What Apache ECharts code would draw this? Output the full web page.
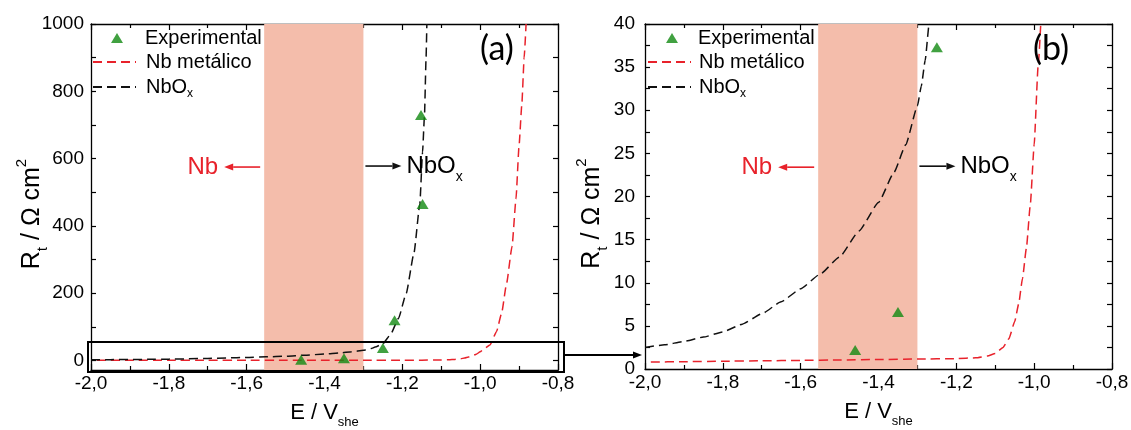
<!DOCTYPE html>
<html><head><meta charset="utf-8">
<script src="https://cdn.jsdelivr.net/npm/echarts@6/dist/echarts.min.js"></script>
<style>html,body{margin:0;padding:0;background:#fff}#c{width:1131px;height:430px}</style>
</head><body><div id="c"></div>
<script>
// ---------- data ----------
const eTicks = [-2.0, -1.8, -1.6, -1.4, -1.2, -1.0, -0.8];
const rtLabelsA = [0, 200, 400, 600, 800, 1000];
const rtTicksA = [0, 100, 200, 300, 400, 500, 600, 700, 800, 900, 1000];
const shadeRange = [-1.555, -1.30];

const expE  = [-1.46, -1.35, -1.25, -1.22, -1.148, -1.152];
const expRt = [2.2, 6.6, 37.3, 120, 465, 730];

const nbE  = [-1.985, -1.9, -1.8, -1.7, -1.6, -1.5, -1.4, -1.3, -1.2, -1.15, -1.12, -1.10, -1.08, -1.065, -1.05, -1.04, -1.03, -1.02, -1.01, -1.00, -0.99, -0.975, -0.958, -0.945, -0.932, -0.918, -0.908, -0.90, -0.893, -0.887, -0.882];
const nbRt = [0.8, 0.85, 0.9, 0.95, 1.0, 1.05, 1.1, 1.15, 1.2, 1.3, 1.5, 1.8, 2.5, 3.5, 5.5, 7.5, 10.5, 14, 19, 26, 35, 46, 86, 140, 230, 340, 480, 640, 760, 900, 1000];

const nboxE  = [-2.00, -1.95, -1.90, -1.85, -1.80, -1.75, -1.70, -1.65, -1.60, -1.55, -1.50, -1.45, -1.40, -1.36, -1.33, -1.30, -1.29, -1.28, -1.27, -1.25, -1.23, -1.21, -1.19, -1.17, -1.155, -1.148, -1.143, -1.139, -1.137];
const nboxRt = [2.5, 2.8, 3.2, 3.7, 4.3, 5.2, 6.4, 7.8, 9.3, 11.0, 13.0, 16.0, 19.3, 22.8, 26.0, 30.5, 32.8, 35.8, 40.0, 50, 78, 125, 200, 320, 466, 620, 731, 900, 1000];

// ---------- style ----------
const RED = '#e8222b', BLACK = '#111111', GREEN = '#128a12', SHADE = '#f4bdab';
const FONT = 'Liberation Sans';
const zip = (a, b) => a.map((v, i) => [v, b[i]]);
const fmtE = v => v.toFixed(1).replace('.', ',');

const xTitleRich = {
  m: {fontSize: 22, fontFamily: FONT, color: '#000', lineHeight: 32},
  s: {fontSize: 13, fontFamily: FONT, color: '#000', lineHeight: 13, verticalAlign: 'bottom'}
};
const yTitleRich = {
  m: {fontSize: 25, fontFamily: FONT, color: '#000', lineHeight: 36},
  s: {fontSize: 15, fontFamily: FONT, color: '#000', lineHeight: 15, verticalAlign: 'bottom'},
  p: {fontSize: 15, fontFamily: FONT, color: '#000', lineHeight: 15, verticalAlign: 'top'}
};
const legendRich = {
  m: {fontSize: 20, fontFamily: FONT, color: '#000', lineHeight: 20},
  s: {fontSize: 12, fontFamily: FONT, color: '#000', lineHeight: 12, verticalAlign: 'bottom', padding: [0,0,-3,0]}
};
const lineAx = {lineStyle: {color: '#000', width: 1.3}, onZero: false};
const tickSt = {color: '#000', width: 1.2};

function xPair(gridIndex) {
  const common = {
    type: 'value', gridIndex, min: eTicks[0], max: eTicks[eTicks.length - 1], interval: 0.2,
    axisLine: lineAx, splitLine: {show: false},
    axisTick: {inside: true, length: 6, lineStyle: tickSt},
    minorTick: {show: true, splitNumber: 2, length: 4, lineStyle: tickSt}
  };
  return [
    Object.assign({}, common, {
      position: 'bottom',
      axisLabel: {formatter: fmtE, fontSize: 19, fontFamily: FONT, color: '#000', margin: 4},
      name: '{m|E / V}{s|she}', nameLocation: 'middle', nameGap: 27,
      nameTextStyle: {rich: xTitleRich}
    }),
    Object.assign({}, common, {position: 'top', axisLabel: {show: false}})
  ];
}

const yName = '{m|R}{s|t}{m| / Ω cm}{p|2}';
const plainNum = v => String(v);

const legendLeft = [92, 647];
const legends = [];
[0, 1].forEach(p => {
  const lx = legendLeft[p];
  legends.push({
    orient: 'vertical', left: lx + 19, top: 28, padding: 0,
    itemWidth: 12, itemHeight: 10, selectedMode: false,
    data: ['Experimental'],
    formatter: n => '{m|' + n + '}',
    textStyle: {rich: legendRich, padding: [0, 0, 0, p === 0 ? 17 : 15]}
  });
  legends.push({
    orient: 'vertical', left: lx, top: 52, padding: 0,
    itemWidth: 43, itemHeight: 12, itemGap: 5, selectedMode: false,
    data: ['Nb metálico', 'NbOx'],
    formatter: n => n === 'NbOx' ? '{m|NbO}{s|x}' : '{m|' + n + '}',
    textStyle: {rich: legendRich, padding: [0, 0, 0, p === 0 ? 5 : 3]}
  });
});

const option = {
  animation: false,
  backgroundColor: '#fff',
  grid: [
    {left: 91, top: 24, width: 467, height: 346, containLabel: false, outerBoundsMode: 'none'},
    {left: 645, top: 24, width: 467, height: 345, containLabel: false, outerBoundsMode: 'none'}
  ],
  xAxis: [...xPair(0), ...xPair(1)],
  yAxis: [
    {type: 'value', gridIndex: 0, position: 'left', min: -28, max: 1000,
     axisLine: lineAx, splitLine: {show: false},
     axisTick: {inside: true, length: 5, lineStyle: tickSt, customValues: rtTicksA},
     axisLabel: {customValues: rtLabelsA, formatter: plainNum, fontSize: 19, fontFamily: FONT, color: '#000', margin: 7},
     name: yName, nameLocation: 'middle', nameRotate: 90, nameGap: 41, nameMoveOverlap: false,
     nameTextStyle: {rich: yTitleRich, padding: [0, 34, 0, 0]}},
    {type: 'value', gridIndex: 0, position: 'right', min: -28, max: 1000,
     axisLine: lineAx, splitLine: {show: false},
     axisTick: {inside: true, length: 5, lineStyle: tickSt, customValues: rtTicksA},
     axisLabel: {show: false}},
    {type: 'value', gridIndex: 1, position: 'left', min: 0, max: 40, interval: 5,
     axisLine: lineAx, splitLine: {show: false},
     axisTick: {inside: true, length: 5, lineStyle: tickSt},
     minorTick: {show: true, splitNumber: 2, length: 5, lineStyle: tickSt},
     axisLabel: {formatter: plainNum, fontSize: 19, fontFamily: FONT, color: '#000', margin: 10},
     name: yName, nameLocation: 'middle', nameRotate: 90, nameGap: 35, nameMoveOverlap: false,
     nameTextStyle: {rich: yTitleRich, padding: [0, 34, 0, 0]}},
    {type: 'value', gridIndex: 1, position: 'right', min: 0, max: 40, interval: 5,
     axisLine: lineAx, splitLine: {show: false},
     axisTick: {inside: true, length: 5, lineStyle: tickSt},
     minorTick: {show: true, splitNumber: 2, length: 5, lineStyle: tickSt},
     axisLabel: {show: false}}
  ],
  legend: legends,
  series: []
};

const HIDE = 'rgba(0,0,0,0)';
[0, 1].forEach(g => {
  const xi = g * 2, yi = g * 2;
  option.series.push(
    {type: 'line', name: 'shade' + g, xAxisIndex: xi, yAxisIndex: yi, data: [], z: 1, silent: true,
     markArea: {silent: true, itemStyle: {color: SHADE, opacity: 1},
       data: [[{xAxis: shadeRange[0]}, {xAxis: shadeRange[1]}]]}},
    {type: 'line', name: 'Nb metálico', xAxisIndex: xi, yAxisIndex: yi, data: zip(nbE, nbRt),
     symbol: 'none', z: 3, clip: true, smooth: 0.15, smoothMonotone: 'x',
     lineStyle: {color: RED, width: 1.5, type: [9, 5]}, itemStyle: {color: HIDE, borderWidth: 0}},
    {type: 'line', name: 'NbOx', xAxisIndex: xi, yAxisIndex: yi, data: zip(nboxE, nboxRt),
     symbol: 'none', z: 3, clip: true, smooth: 0.15, smoothMonotone: 'x',
     lineStyle: {color: BLACK, width: 1.5, type: [9, 5]}, itemStyle: {color: HIDE, borderWidth: 0}},
    {type: 'scatter', name: 'Experimental', xAxisIndex: xi, yAxisIndex: yi, data: zip(expE, expRt),
     symbol: 'triangle', symbolSize: [12, 10], z: 5, clip: true,
     itemStyle: {color: GREEN}}
  );
});

const chart = echarts.init(document.getElementById('c'), null, {renderer: 'canvas'});
chart.setOption(option);

// ---------- annotations ----------
const px = (g, e, r) => chart.convertToPixel({xAxisIndex: g * 2, yAxisIndex: g * 2}, [e, r]);
function arrow(x1, y1, x2, y2, color, w) {
  const dx = x2 - x1, dy = y2 - y1, L = Math.hypot(dx, dy), ux = dx / L, uy = dy / L;
  const hl = 9, hw = 3.5;
  const bx = x2 - ux * hl, by = y2 - uy * hl;
  return [
    {type: 'line', z: 20, shape: {x1, y1, x2: bx, y2: by}, style: {stroke: color, lineWidth: w}},
    {type: 'polygon', z: 20, shape: {points: [[x2, y2], [bx - uy * hw, by + ux * hw], [bx + uy * hw, by - ux * hw]]},
     style: {fill: color}}
  ];
}
const annoR = [575, 23.4];
const panelTag = ['(a)', '(b)'];
const g = [];
[0, 1].forEach(p => {
  const yA = px(p, shadeRange[0], annoR[p])[1];
  const xL = px(p, shadeRange[0], 0)[0];
  const xR = px(p, shadeRange[1], 0)[0];
  g.push(...arrow(xL - 4, yA, xL - 40, yA, RED, 1.6));
  g.push({type: 'text', z: 20, x: xL - 46, y: yA,
          style: {text: 'Nb', fill: RED, fontSize: 24, fontFamily: FONT, align: 'right', verticalAlign: 'middle'}});
  g.push(...arrow(xR + 2, yA - 1, xR + 38, yA - 1, BLACK, 1.6));
  g.push({type: 'text', z: 20, x: xR + 43, y: yA - 1,
          style: {text: '{m|NbO}{s|x}', align: 'left', verticalAlign: 'middle',
                  rich: {m: {fontSize: 24, fontFamily: FONT, fill: '#000', lineHeight: 36},
                         s: {fontSize: 14, fontFamily: FONT, fill: '#000', lineHeight: 14, verticalAlign: 'bottom'}}}});
  const corner = px(p, eTicks[eTicks.length - 1], p === 0 ? 1000 : 40);
  g.push({type: 'text', z: 20, x: corner[0] - 61, y: corner[1] + 25,
          style: {text: panelTag[p], fill: '#000', fontSize: 34, fontFamily: 'Lato', align: 'center', verticalAlign: 'middle'}});
});
// zoom box in panel (a) and connecting arrow to panel (b)
const bTL = px(0, eTicks[0], 55), bBR = px(0, eTicks[eTicks.length - 1], -28);
const boxX1 = bTL[0] - 3, boxY1 = bTL[1], boxX2 = bBR[0] + 6, boxY2 = bBR[1] + 2;
g.push({type: 'rect', z: 20, shape: {x: boxX1, y: boxY1, width: boxX2 - boxX1, height: boxY2 - boxY1},
        style: {fill: 'none', stroke: '#000', lineWidth: 2}});
const bAx = px(1, eTicks[0], 0)[0];
g.push(...arrow(boxX2, (boxY1 + boxY2) / 2 - 2, bAx - 3, (boxY1 + boxY2) / 2 - 2, '#000', 2));
chart.setOption({graphic: g});
</script>
</body></html>
